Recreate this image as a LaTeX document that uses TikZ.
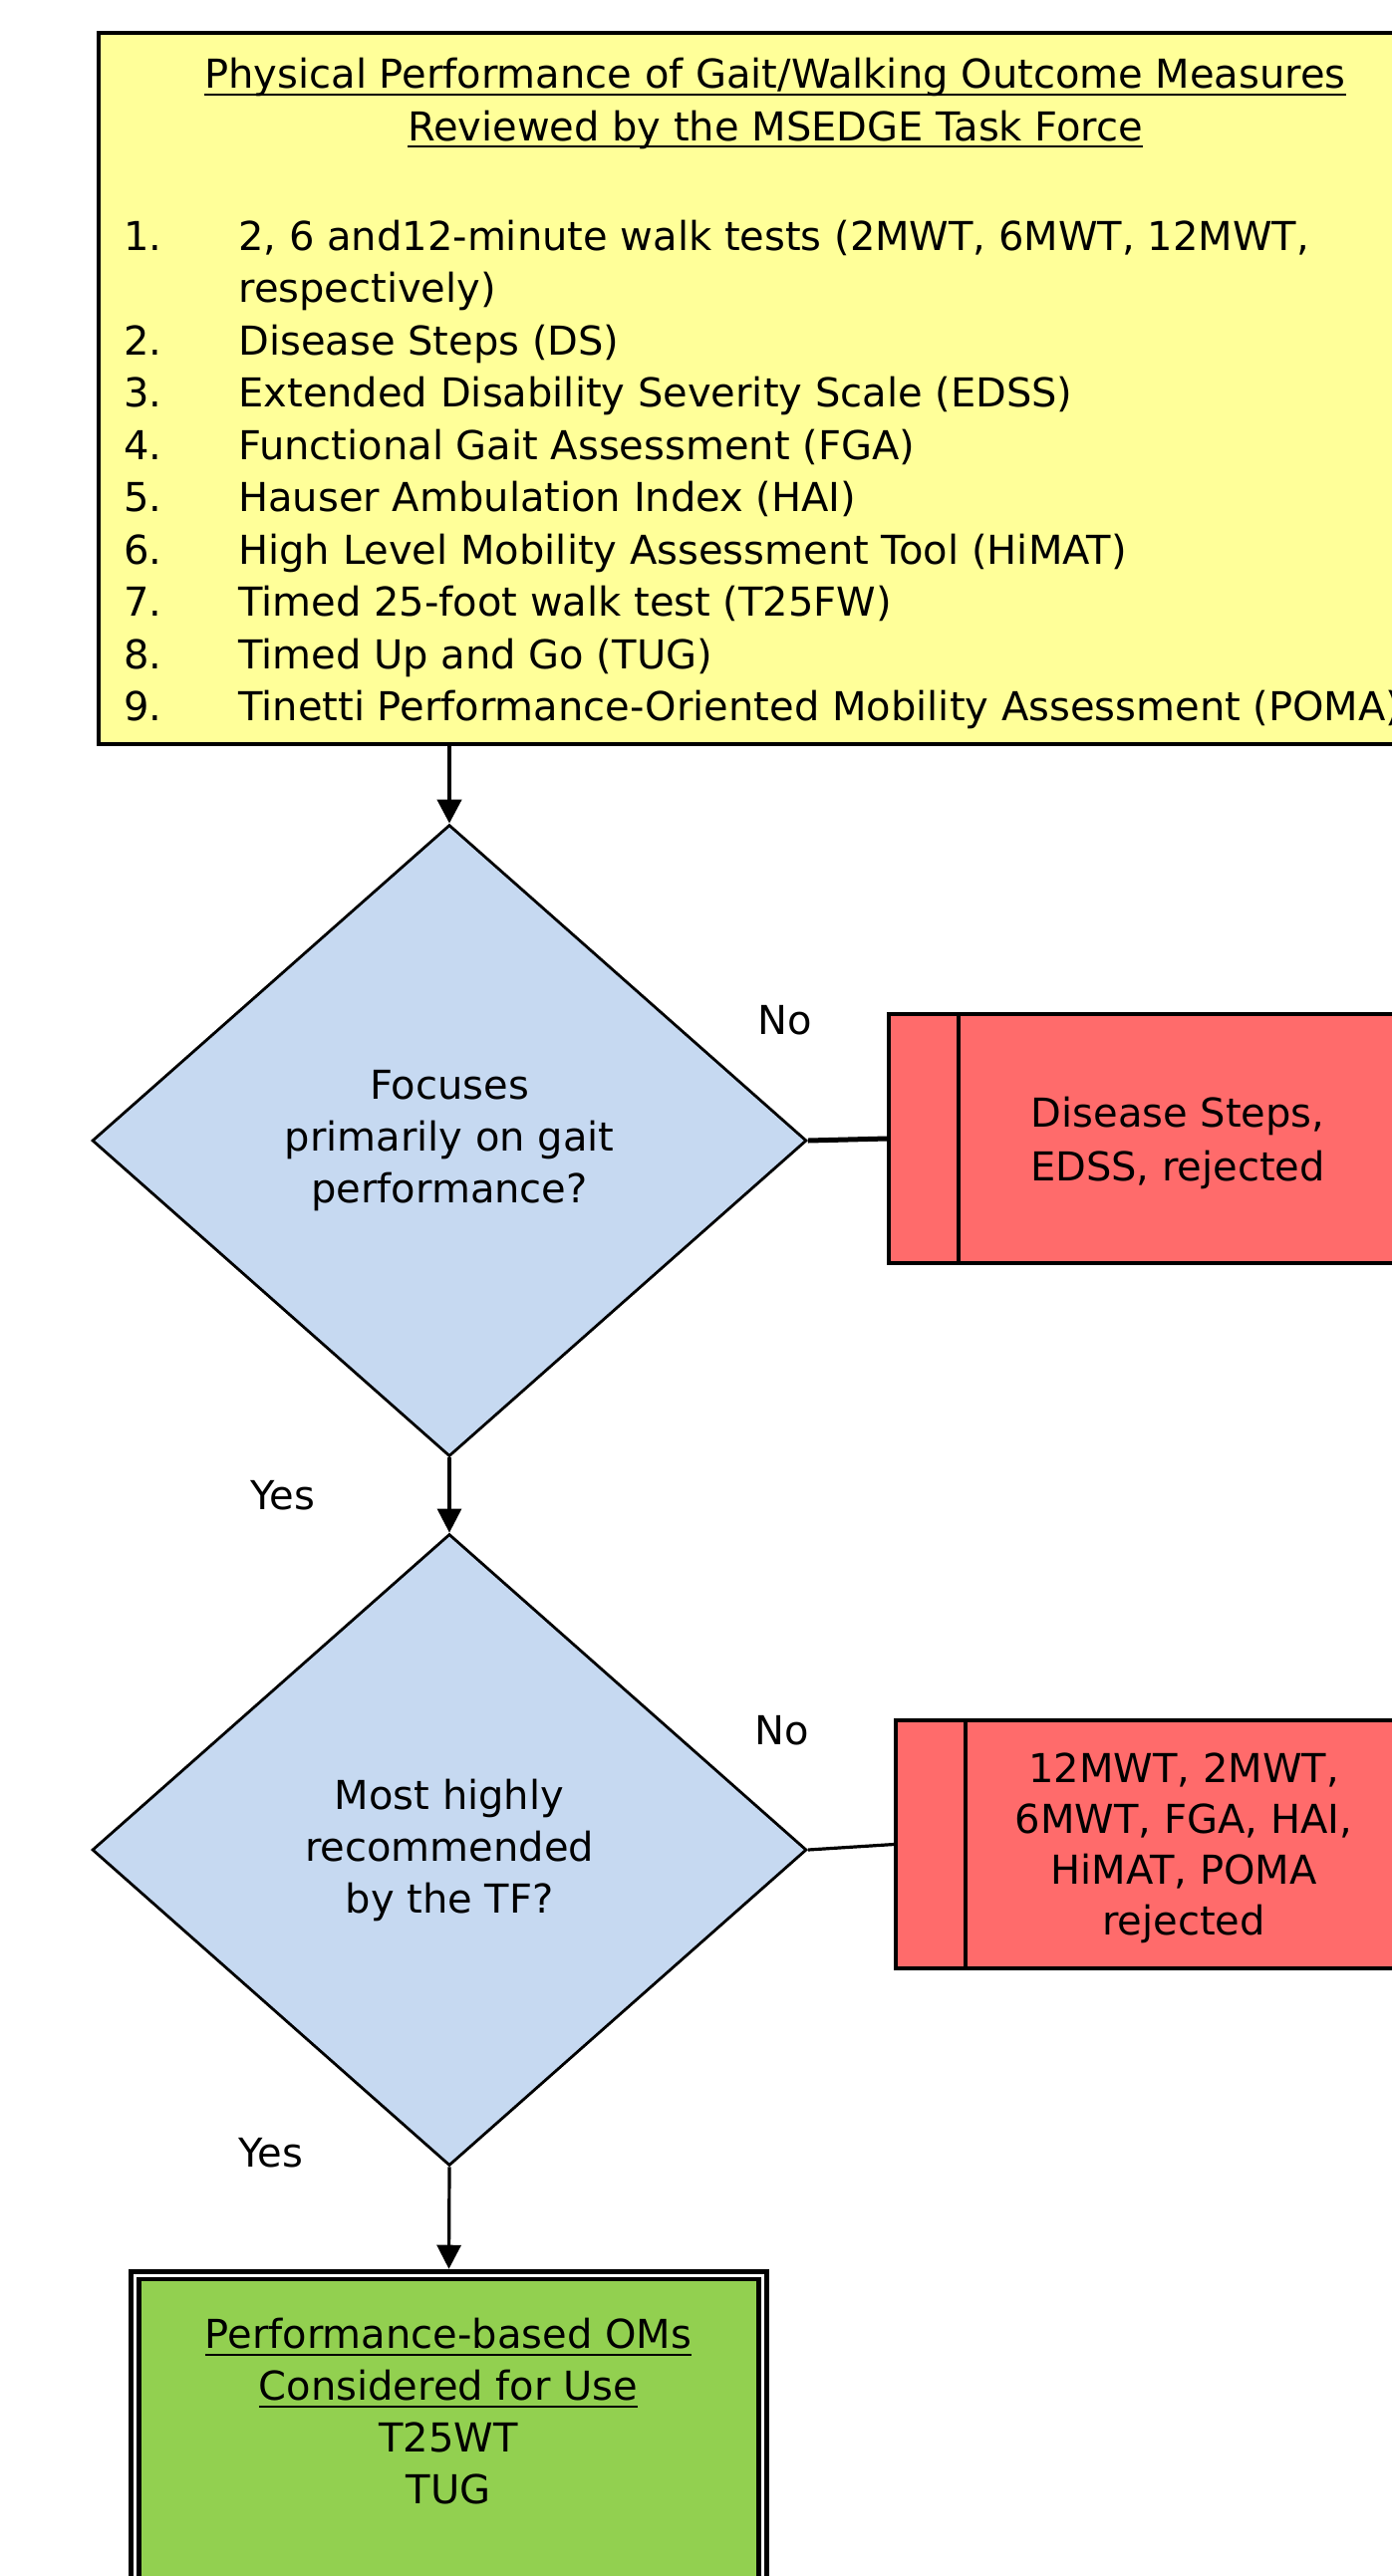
\documentclass[tikz,border=0pt]{standalone}
\usepackage{fontspec}
\setmainfont{DejaVu Sans}
\usetikzlibrary{shapes.geometric,arrows.meta}
\definecolor{yel}{HTML}{FFFF99}
\definecolor{dblue}{HTML}{C6D9F1}
\definecolor{rred}{HTML}{FF6B6B}
\definecolor{ggreen}{HTML}{92D050}
\newcommand\ulx[1]{\setbox0\hbox{#1}\rlap{\rule[-3.5pt]{\wd0}{1pt}}\box0}
\begin{document}
\begin{tikzpicture}[x=0.5pt,y=-0.5pt,
  txt/.style={font=\fontsize{20pt}{26pt}\selectfont, inner sep=0pt, align=center},
  dec/.style={shape=diamond, draw=black, line width=1.4pt, fill=dblue, minimum width=358.5pt, minimum height=317pt, inner sep=0pt, txt},
  rej/.style={draw=black, line width=2pt, fill=rred, inner sep=0pt},
  arr/.style={-{Triangle[length=12pt,width=12pt]}},
  ]
\useasboundingbox (0,0) rectangle (1397,2586);
\clip (0,0) rectangle (1397,2586);

% top box
\node[draw=black, line width=2pt, fill=yel, minimum width=680.5pt, minimum height=357pt, inner sep=0pt] (Y) at (779.5,390) {};
\node[txt, font=\fontsize{20pt}{26.25pt}\selectfont] (Ytitle) at (778,104)
  {\ulx{Physical Performance of Gait/Walking Outcome Measures}\\\ulx{Reviewed by the MSEDGE Task Force}};
\node[txt, font=\fontsize{20pt}{26.25pt}\selectfont, anchor=base west, align=left] (Ylist) at (124,251)
  {\begin{tabular}[t]{@{}p{57.5pt}@{}l@{}}
   1. & 2, 6 and12-minute walk tests (2MWT, 6MWT, 12MWT,\\
      & respectively)\\
   2. & Disease Steps (DS)\\
   3. & Extended Disability Severity Scale (EDSS)\\
   4. & Functional Gait Assessment (FGA)\\
   5. & Hauser Ambulation Index (HAI)\\
   6. & High Level Mobility Assessment Tool (HiMAT)\\
   7. & Timed 25-foot walk test (T25FW)\\
   8. & Timed Up and Go (TUG)\\
   9. & Tinetti Performance-Oriented Mobility Assessment (POMA)
   \end{tabular}};

% decisions
\node[dec] (D1) at (451,1145) {Focuses\\primarily on gait\\performance?};
\node[dec] (D2) at (451,1857) {Most highly\\recommended\\by the TF?};

% rejected boxes
\node[rej, minimum width=254pt, minimum height=125pt] (R1) at (1146,1143) {};
\draw[line width=1.6pt] ([xshift=36pt]R1.north west) -- ([xshift=36pt]R1.south west);
\node[txt, font=\fontsize{20pt}{27pt}\selectfont] (R1t) at (1182,1147) {Disease Steps,\\EDSS, rejected};

\node[rej, minimum width=250.5pt, minimum height=124.5pt] (R2) at (1149.5,1851.5) {};
\draw[line width=1.6pt] ([xshift=36pt]R2.north west) -- ([xshift=36pt]R2.south west);
\node[txt, font=\fontsize{20pt}{25.5pt}\selectfont] (R2t) at (1188,1855) {12MWT, 2MWT,\\6MWT, FGA, HAI,\\HiMAT, POMA\\rejected};

% final box
\node[draw=black, line width=2.4pt, double=white, double distance=1.5pt, fill=ggreen,
      minimum width=315pt, minimum height=308pt, inner sep=0pt, outer sep=3.15pt] (G) at (450.5,2592) {};
\node[txt] (Gt) at (450,2421) {\ulx{Performance-based OMs}\\\ulx{Considered for Use}\\T25WT\\TUG};

% labels
\node[txt] (no1) at (788,1024) {No};
\node[txt] (no2) at (785,1737) {No};
\node[txt] (yes1) at (284,1501) {Yes};
\node[txt] (yes2) at (272,2161) {Yes};

% connectors
\draw[arr, line width=2.2pt] (D1.north |- Y.south) -- (D1.north);
\draw[line width=2.5pt] (D1.east) -- (R1.west);
\draw[arr, line width=1.6pt] (D1.south) -- (D2.north);
\draw[line width=1.6pt] (D2.east) -- (R2.west);
\draw[arr, line width=1.6pt] (D2.south) -- (G.north);
\end{tikzpicture}
\end{document}
